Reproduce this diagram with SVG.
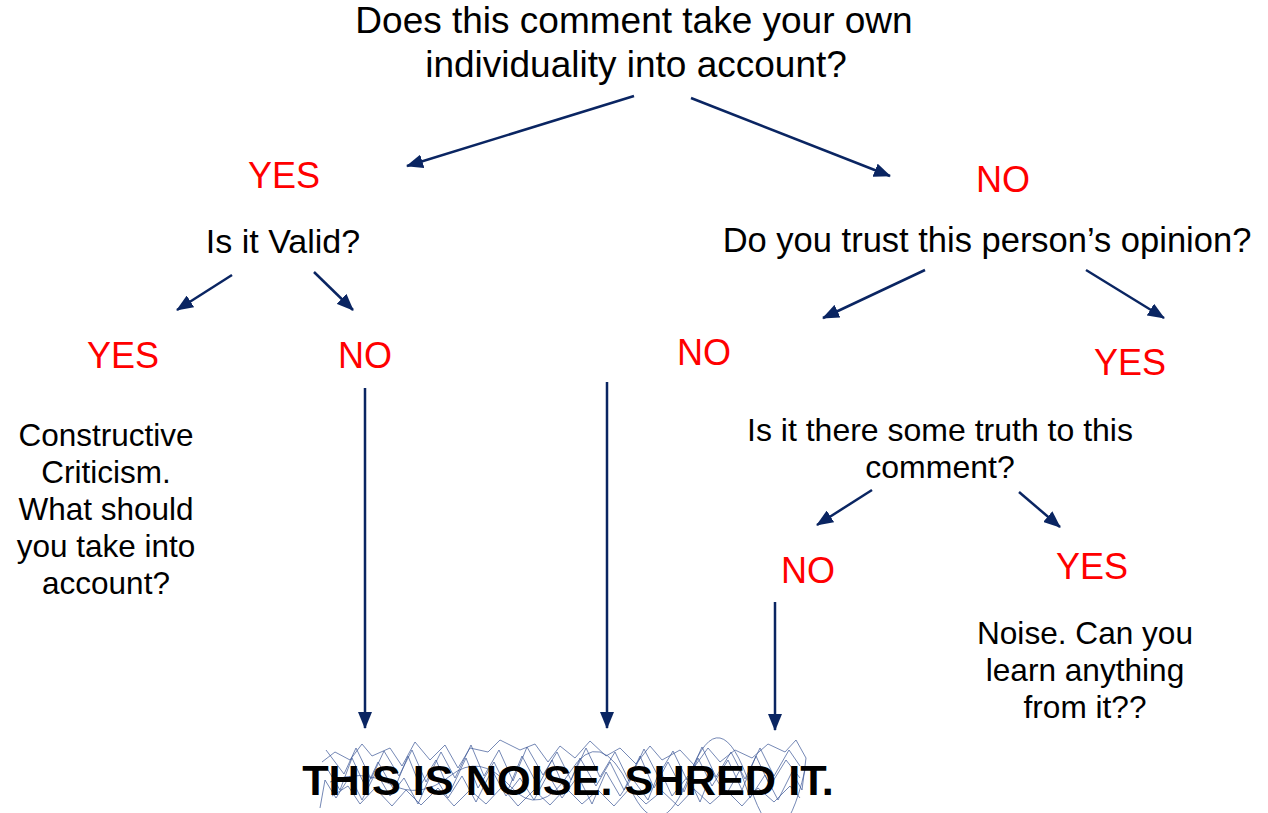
<svg xmlns="http://www.w3.org/2000/svg" width="1268" height="813" viewBox="0 0 1268 813">
<style>
.t{font-family:"Liberation Sans",Arial,sans-serif;fill:#000;text-anchor:middle}
.r{font-family:"Liberation Sans",Arial,sans-serif;fill:#ff0000;text-anchor:middle;font-size:36px}
.c{stroke:#0a2562;stroke-width:2.5;fill:none;marker-end:url(#ah)}
.s{stroke:#3a5596;stroke-width:1;fill:none;stroke-opacity:0.7;stroke-linejoin:round}
</style>
<defs>
<marker id="ah" markerUnits="userSpaceOnUse" markerWidth="18" markerHeight="14" refX="16" refY="7" orient="auto">
<path d="M0,0 L17,7 L0,14 z" fill="#0a2562"/>
</marker>
</defs>
<rect width="1268" height="813" fill="#fff"/>
<g id="q1"><text class="t" font-size="37" x="634" y="33">Does this comment take your own</text><text class="t" font-size="37" x="636" y="77">individuality into account?</text></g>
<g id="yes1"><text class="r" x="284" y="188">YES</text></g>
<g id="no1"><text class="r" x="1003" y="192">NO</text></g>
<g id="q2"><text class="t" font-size="34" x="283" y="253">Is it Valid?</text></g>
<g id="q3"><text class="t" font-size="34.5" x="987" y="252">Do you trust this person’s opinion?</text></g>
<g id="yes2"><text class="r" x="123" y="368">YES</text></g>
<g id="no2"><text class="r" x="365" y="368">NO</text></g>
<g id="no3"><text class="r" x="704" y="365">NO</text></g>
<g id="yes3"><text class="r" x="1130" y="375">YES</text></g>
<g id="cc"><text class="t" font-size="31.5" x="106" y="446">Constructive</text><text class="t" font-size="31.5" x="106" y="483">Criticism.</text><text class="t" font-size="31.5" x="106" y="520">What should</text><text class="t" font-size="31.5" x="106" y="557">you take into</text><text class="t" font-size="31.5" x="106" y="594">account?</text></g>
<g id="q4"><text class="t" font-size="32" x="940" y="441">Is it there some truth to this</text><text class="t" font-size="32" x="940" y="478">comment?</text></g>
<g id="no4"><text class="r" x="808" y="583">NO</text></g>
<g id="yes4"><text class="r" x="1092" y="579">YES</text></g>
<g id="learn"><text class="t" font-size="31.6" x="1085" y="644">Noise. Can you</text><text class="t" font-size="31.6" x="1085" y="681">learn anything</text><text class="t" font-size="31.6" x="1085" y="718">from it??</text></g>
<g id="shred">
<path class="s" d="M322,762 L335,752 L350,760 L362,744 L372,756 L390,748 L402,766 L415,742 L430,760 L445,745 L458,768 L470,748 L488,752 L500,740 L520,750 L535,744 L548,762 L560,746 L575,758 L590,741 L606,756 L620,748 L636,764 L650,746 L662,760 L680,750 L695,766 L708,748 L720,762 L735,750 L752,758 L768,744 L785,752 L796,740 L806,758 L802,790 L792,772 L778,800 L765,775 L750,798 L740,770 L726,795 L712,772 L700,802 L688,776 L672,796 L660,770 L648,800 L632,778 L620,796 L606,772 L592,804 L578,776 L562,798 L548,774 L534,800 L520,778 L506,796 L492,770 L476,802 L462,776 L448,798 L432,772 L418,804 L404,778 L390,796 L376,772 L362,800 L350,776 L336,798 L325,780 L320,808"/>
<path class="s" d="M328,770 L340,790 L352,758 L366,788 L378,762 L394,790 L408,756 L420,786 L436,760 L450,792 L466,758 L478,788 L494,762 L508,790 L522,756 L538,786 L552,760 L566,792 L580,758 L596,786 L610,762 L624,790 L640,756 L654,788 L668,762 L684,792 L698,758 L712,786 L728,760 L742,790 L756,756 L770,786 L786,760 L800,778"/>
<path class="s" d="M330,782 Q360,768 390,784 T450,776 T510,786 T570,772 T630,788 T690,774 T750,786 T805,770"/>
<path class="s" d="M326,750 L344,774 L356,748 L371,779 L384,751 L399,776 L412,750 L426,782 L441,752 L455,778 L471,745 L484,776 L499,750 L513,781 L527,747 L543,775 L557,752 L571,780 L586,748 L600,777 L615,752 L629,781 L644,749 L658,776 L673,751 L687,780 L702,747 L716,777 L731,752 L745,779 L760,748 L774,776 L789,750 L800,766"/>
<path class="s" d="M332,796 L348,786 L360,804 L375,788 L392,806 L406,790 L421,805 L438,788 L454,806 L470,790 L486,804 L502,787 L518,806 L534,790 L550,805 L566,788 L582,804 L598,790 L614,806 L630,788 L646,804 L662,791 L678,806 L694,789 L710,804 L726,790 L742,806 L758,788 L774,802 L790,786 L800,798"/>
</g>
<g id="shredtext"><text class="t" font-size="43.3" font-weight="bold" x="568" y="795">THIS IS NOISE. SHRED IT.</text></g>
<g id="connectors">
<line class="c" x1="634" y1="96" x2="407" y2="166"/>
<line class="c" x1="691" y1="98" x2="890" y2="176"/>
<line class="c" x1="232" y1="275" x2="177" y2="310"/>
<line class="c" x1="314" y1="272" x2="353" y2="310"/>
<line class="c" x1="925" y1="270" x2="823" y2="318"/>
<line class="c" x1="1086" y1="270" x2="1164" y2="318"/>
<line class="c" x1="365" y1="388" x2="365" y2="728"/>
<line class="c" x1="607" y1="382" x2="607" y2="728"/>
<line class="c" x1="775" y1="602" x2="775" y2="730"/>
<line class="c" x1="872" y1="490" x2="817" y2="525"/>
<line class="c" x1="1019" y1="492" x2="1060" y2="527"/>
</g>
</svg>
